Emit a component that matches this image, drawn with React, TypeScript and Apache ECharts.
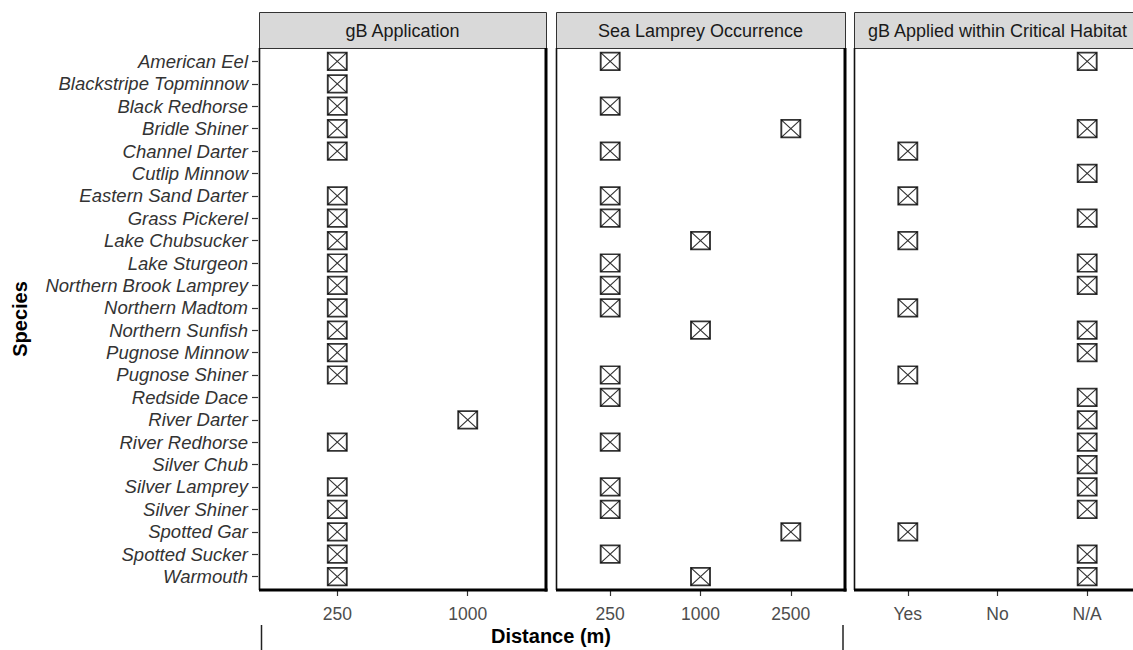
import React, { useEffect, useRef } from "react";
import * as echarts from "echarts";

const species = [
  "American Eel", "Blackstripe Topminnow", "Black Redhorse", "Bridle Shiner",
  "Channel Darter", "Cutlip Minnow", "Eastern Sand Darter", "Grass Pickerel",
  "Lake Chubsucker", "Lake Sturgeon", "Northern Brook Lamprey", "Northern Madtom",
  "Northern Sunfish", "Pugnose Minnow", "Pugnose Shiner", "Redside Dace",
  "River Darter", "River Redhorse", "Silver Chub", "Silver Lamprey",
  "Silver Shiner", "Spotted Gar", "Spotted Sucker", "Warmouth",
];

const panelTitles = ["gB Application", "Sea Lamprey Occurrence", "gB Applied within Critical Habitat"];

const gbApplicationTicks = ["250", "1000"];
const seaLampreyTicks = ["250", "1000", "2500"];
const criticalHabitatTicks = ["Yes", "No", "N/A"];

const gbApplication = [
  "250", "250", "250", "250", "250", null, "250", "250", "250", "250", "250", "250",
  "250", "250", "250", null, "1000", "250", null, "250", "250", "250", "250", "250",
];
const seaLamprey = [
  "250", null, "250", "2500", "250", null, "250", "250", "1000", "250", "250", "250",
  "1000", null, "250", "250", null, "250", null, "250", "250", "2500", "250", "1000",
];
const criticalHabitat = [
  "N/A", null, null, "N/A", "Yes", "N/A", "Yes", "N/A", "Yes", "N/A", "N/A", "Yes",
  "N/A", "N/A", "Yes", "N/A", "N/A", "N/A", "N/A", "N/A", "N/A", "Yes", "N/A", "N/A",
];

const FONT = "Liberation Sans, Arial, sans-serif";

export default function App() {
  const ref = useRef<HTMLDivElement>(null);
  useEffect(() => {
    if (!ref.current) return;
    const chart = echarts.init(ref.current, null, { renderer: "svg" });

    const plotTop = 48;
    const plotBottom = 590;
    const stripTop = 12;
    const nY = species.length;
    const yUnit = (plotBottom - plotTop) / (nY - 1 + 1.2);
    const gridTop = plotTop + 0.1 * yUnit;
    const gridHeight = nY * yUnit;

    const panels = [
      { left: 259, right: 546, ticks: gbApplicationTicks, values: gbApplication },
      { left: 556, right: 845, ticks: seaLampreyTicks, values: seaLamprey },
      { left: 854, right: 1141, ticks: criticalHabitatTicks, values: criticalHabitat },
    ];

    const grids: any[] = [];
    const xAxes: any[] = [];
    const yAxes: any[] = [];
    const series: any[] = [];
    const graphics: any[] = [];

    const boxPath = "path://M0,0H16V16H0Z";
    const crossPath = "path://M0,0L16,16M16,0L0,16";

    panels.forEach((p, i) => {
      const w = p.right - p.left;
      const n = p.ticks.length;
      const xUnit = w / (n - 1 + 1.2);
      const gridLeft = p.left + 0.1 * xUnit;
      grids.push({ left: gridLeft, top: gridTop, width: n * xUnit, height: gridHeight });
      xAxes.push({
        type: "category",
        gridIndex: i,
        data: p.ticks,
        offset: plotBottom - (gridTop + gridHeight) + 1,
        axisLine: { show: false },
        axisTick: {
          show: true, interval: 0, alignWithLabel: true, length: 5,
          lineStyle: { color: "#333", width: 1.2 },
        },
        axisLabel: { interval: 0, color: "#4d4d4d", fontSize: 17.5, fontFamily: FONT, margin: 14 },
        splitLine: { show: false },
      });
      yAxes.push({
        type: "category",
        gridIndex: i,
        data: species,
        inverse: true,
        offset: gridLeft - p.left + (i === 0 ? 1 : 0),
        axisLine: { show: false },
        axisTick: {
          show: i === 0, interval: 0, alignWithLabel: true, length: 6,
          lineStyle: { color: "#333", width: 1.2 },
        },
        axisLabel: {
          show: i === 0, interval: 0, hideOverlap: false, color: "#333", fontSize: 18.5,
          fontStyle: "italic", fontFamily: FONT, margin: 10,
        },
        splitLine: { show: false },
      });
      const data = p.values
        .map((v, k) => (v === null ? null : [v, species[k]]))
        .filter((d) => d !== null);
      series.push({
        type: "scatter",
        xAxisIndex: i,
        yAxisIndex: i,
        data,
        symbol: boxPath,
        symbolSize: [19, 17.5],
        itemStyle: { color: "rgba(0,0,0,0)", borderColor: "#000", borderWidth: 1.8 },
        emphasis: { disabled: true },
        z: 3,
      });
      series.push({
        type: "scatter",
        xAxisIndex: i,
        yAxisIndex: i,
        data,
        symbol: crossPath,
        symbolSize: [19, 17.5],
        itemStyle: { color: "rgba(0,0,0,0)", borderColor: "#000", borderWidth: 1.1 },
        emphasis: { disabled: true },
        z: 3,
      });

      // strip
      graphics.push({
        type: "rect",
        shape: { x: p.left + 0.5, y: stripTop + 0.5, width: w, height: plotTop - stripTop },
        style: { fill: "#d9d9d9", stroke: "#333", lineWidth: 1 },
        z: 1,
      });
      graphics.push({
        type: "text",
        x: p.left + w / 2,
        y: (stripTop + plotTop) / 2 + 1,
        style: {
          text: panelTitles[i], fill: "#1a1a1a", font: `18px ${FONT}`,
          align: "center", verticalAlign: "middle",
        },
        z: 2,
      });
      // left border
      graphics.push({
        type: "line",
        shape: { x1: p.left + 0.5, y1: plotTop, x2: p.left + 0.5, y2: plotBottom },
        style: { stroke: "#111", lineWidth: 1.6 },
        z: 2,
      });
      // right border (thick)
      graphics.push({
        type: "line",
        shape: { x1: p.right, y1: plotTop, x2: p.right, y2: plotBottom + 1.5 },
        style: { stroke: "#000", lineWidth: 3 },
        z: 2,
      });
      // bottom axis line (thick)
      graphics.push({
        type: "line",
        shape: { x1: p.left, y1: plotBottom, x2: p.right + 1.5, y2: plotBottom },
        style: { stroke: "#000", lineWidth: 3 },
        z: 2,
      });
    });

    graphics.push({
      type: "text",
      x: 551,
      y: 636,
      style: {
        text: "Distance (m)", fill: "#000", font: `bold 20px ${FONT}`,
        align: "center", verticalAlign: "middle",
      },
    });
    graphics.push({
      type: "text",
      x: 20,
      y: 319,
      rotation: Math.PI / 2,
      style: {
        text: "Species", fill: "#000", font: `bold 20px ${FONT}`,
        align: "center", verticalAlign: "middle",
      },
    });
    graphics.push({
      type: "line",
      shape: { x1: 261.5, y1: 625, x2: 261.5, y2: 650 },
      style: { stroke: "#222", lineWidth: 1.5 },
    });
    graphics.push({
      type: "line",
      shape: { x1: 843, y1: 625, x2: 843, y2: 650 },
      style: { stroke: "#222", lineWidth: 1.5 },
    });

    chart.setOption({
      animation: false,
      backgroundColor: "#fff",
      grid: grids,
      xAxis: xAxes,
      yAxis: yAxes,
      series,
      graphic: graphics,
    });
    return () => chart.dispose();
  }, []);
  return (
    <div
      ref={ref}
      style={{ position: "fixed", left: 0, top: 0, width: 1133, height: 650 }}
    />
  );
}
